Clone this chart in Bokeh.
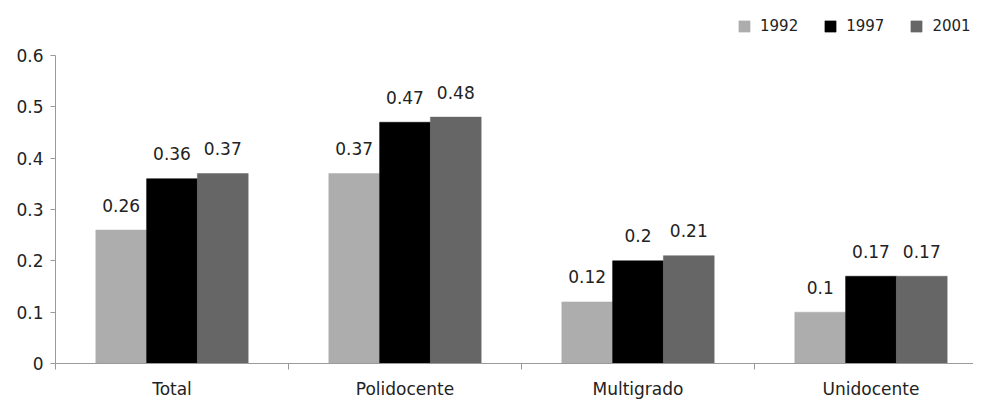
from bokeh.plotting import figure
from bokeh.models import ColumnDataSource, Range1d, FixedTicker, Legend, LegendItem
from bokeh.core.properties import value
from bokeh.embed import file_html
from bokeh.resources import INLINE

categories = ["Total", "Polidocente", "Multigrado", "Unidocente"]
years = ["1992", "1997", "2001"]
v1992 = [0.26, 0.37, 0.12, 0.10]
v1997 = [0.36, 0.47, 0.20, 0.17]
v2001 = [0.37, 0.48, 0.21, 0.17]
labels1992 = ["0.26", "0.37", "0.12", "0.1"]
labels1997 = ["0.36", "0.47", "0.2", "0.17"]
labels2001 = ["0.37", "0.48", "0.21", "0.17"]
yticks = [0, 0.1, 0.2, 0.3, 0.4, 0.5, 0.6]
ytick_labels = ["0", "0.1", "0.2", "0.3", "0.4", "0.5", "0.6"]
colors = ["#adadad", "#000000", "#666666"]

FONT = "DejaVu Sans"
TXT = "#222222"

# frame: left 55, right 973, top 8, bottom 363 (px); 233 px per category, 513.3 px per unit
p = figure(width=973, height=401, output_backend="svg", toolbar_location=None,
           x_range=Range1d(0, 918 / 233), y_range=Range1d(0, 355 / 513.3),
           min_border_left=55, min_border_right=0, min_border_top=8, min_border_bottom=30)
p.outline_line_color = None
p.xgrid.visible = False
p.ygrid.visible = False
p.background_fill_color = "white"

centers = [i + 0.5 for i in range(len(categories))]
bw = 0.218
offsets = [-bw, 0.0, bw]
series = [v1992, v1997, v2001]
lbls = [labels1992, labels1997, labels2001]

renderers = []
for vals, lab, col, off in zip(series, lbls, colors, offsets):
    src = ColumnDataSource(dict(x=[c + off for c in centers], top=vals, lab=lab))
    r = p.vbar(x="x", top="top", width=bw, bottom=0, source=src,
               fill_color=col, line_color=col, line_width=0.5)
    renderers.append(r)
    p.text(x="x", y="top", text="lab", source=src, text_align="center",
           text_baseline="alphabetic", y_offset=-25, text_font=value(FONT),
           text_font_size="17px", text_color=TXT)

legend = Legend(items=[LegendItem(label=y, renderers=[r]) for y, r in zip(years, renderers)],
                orientation="horizontal", location=(682, 328),
                glyph_width=14, glyph_height=14, label_standoff=9, spacing=25,
                padding=0, margin=0, border_line_color=None, background_fill_alpha=0,
                label_text_font=FONT, label_text_font_size="15px", label_text_color=TXT,
                label_height=14)
p.add_layout(legend, "center")

ax = p.xaxis[0]
ax.ticker = FixedTicker(ticks=centers, minor_ticks=[0, 1, 2, 3])
ax.major_label_overrides = {c: name for c, name in zip(centers, categories)}
ax.major_tick_out = 0
ax.major_tick_in = 0
ax.minor_tick_out = 6
ax.minor_tick_in = 0
ax.axis_line_color = "#9a9a9a"
ax.minor_tick_line_color = "#9a9a9a"
ax.major_label_text_font = FONT
ax.major_label_text_font_size = "17px"
ax.major_label_text_color = TXT
ax.major_label_standoff = 9

ay = p.yaxis[0]
ay.bounds = (yticks[0], yticks[-1])
ay.ticker = FixedTicker(ticks=yticks)
ay.major_label_overrides = dict(zip(yticks, ytick_labels))
ay.major_tick_out = 5
ay.major_tick_in = 0
ay.minor_tick_line_color = None
ay.axis_line_color = "#9a9a9a"
ay.major_tick_line_color = "#9a9a9a"
ay.major_label_text_font = FONT
ay.major_label_text_font_size = "17px"
ay.major_label_text_color = TXT
ay.major_label_standoff = 7

open("out.html", "w").write(file_html(p, INLINE))
